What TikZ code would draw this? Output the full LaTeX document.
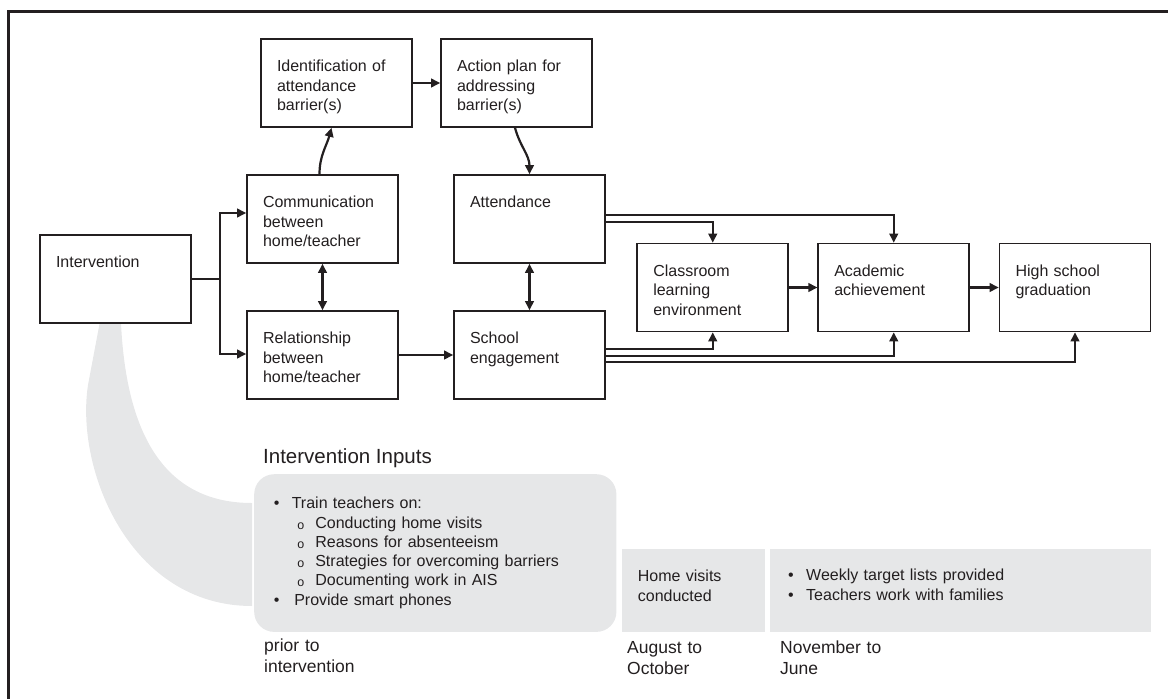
\documentclass[tikz,border=0pt]{standalone}
\usepackage{fontspec}
\setmainfont{Liberation Sans}
\usepackage{tikz}
\usetikzlibrary{arrows.meta}
\definecolor{inkblack}{RGB}{35,31,32}
\definecolor{inputgray}{RGB}{230,231,232}
\tikzstyle{block} = [rectangle, draw = inkblack, line width = 1.6pt, fill = white, text = inkblack, text width = 119pt, inner xsep = 16pt, inner ysep = 0pt, text height = 32.5pt, text depth = 55.5pt, align = left, font = \fontsize{16}{19.7}\selectfont]
\tikzstyle{arrow} = [draw = inkblack, line width = 2.2pt, -{Triangle[length=9pt, width=8.5pt]}]
\tikzstyle{darrow} = [draw = inkblack, line width = 2.2pt, {Triangle[length=9pt, width=8.5pt]}-{Triangle[length=9pt, width=8.5pt]}]
\tikzstyle{link} = [draw = inkblack, line width = 2.2pt]
\tikzstyle{phase} = [rectangle, fill = inputgray, text = inkblack, inner ysep = 0pt, align = left, anchor = north west, font = \fontsize{16}{19.3}\selectfont]
\tikzstyle{period} = [text = inkblack, inner sep = 0pt, text width = 130pt, align = left, anchor = base west, font = \fontsize{17.5}{21.3}\selectfont]
\newcommand{\itembul}{\makebox[18pt][l]{\textbullet}}
\newcommand{\subbul}{\hspace*{23.5pt}\makebox[18pt][l]{\raisebox{-1pt}{\fontsize{12.5}{12.5}\selectfont o}}}

\begin{document}
\begin{tikzpicture}[x = 1pt, y = -1pt, node distance = 207pt]
    \useasboundingbox (0,0) rectangle (1168,699);
    % frame
    \draw[inkblack, line width = 3pt] (8.5,710) -- (8.5,11.5) -- (1180,11.5);
    % gray band from intervention down to the inputs
    \fill[inputgray] (104,300) -- (119,300) -- (121,323) .. controls (127,450) and (175,503) .. (252,503) -- (252,606) .. controls (130,606) and (75,470) .. (88,385) -- cycle;

    \node (interv) [block] at (115.5,279) {Intervention};
    \node (comm) [block, right of = interv, yshift = 60pt] {Communication\\between\\home/teacher};
    \node (relat) [block, below of = comm, yshift = 71pt] {Relationship\\between\\home/teacher};
    \node (ident) [block, above of = comm, yshift = -71pt, xshift = 14pt] {Identification of\\attendance\\barrier(s)};
    \node (action) [block, right of = ident, xshift = -27pt] {Action plan for\\addressing\\barrier(s)};
    \node (attend) [block, right of = comm] {Attendance};
    \node (school) [block, right of = relat] {School\\engagement};
    \node (classroom) [block, right of = attend, xshift = -23.75pt, yshift = -68.5pt] {Classroom\\learning\\environment};
    \node (academic) [block, right of = classroom, xshift = -26pt] {Academic\\achievement};
    \node (hsgrad) [block, right of = academic, xshift = -25.75pt] {High school\\graduation};

    \coordinate (split) at ([xshift = 28pt]interv.east);
    \draw[link] (interv.east) -- (split);
    \draw[arrow] (split) |- ([yshift = 6pt]comm.west);
    \draw[arrow] (split) |- ([yshift = 1pt]relat.west);
    \draw[darrow] (comm) -- (relat);
    \draw[arrow] ([xshift = -3pt]comm.north) to[out = 90, in = -105] ([xshift = -5pt]ident.south);
    \draw[arrow] (ident) -- (action);
    \draw[arrow] ([xshift = -1.5pt]action.south) to[out = -75, in = 90] (attend.north);
    \draw[darrow] (attend) -- (school);
    \draw[arrow] (relat) -- (school);
    \draw[arrow] ([yshift = 4pt]attend.east) -| (academic.north);
    \draw[arrow] ([yshift = -3pt]attend.east) -| (classroom.north);
    \draw[arrow] ([yshift = 6pt]school.east) -| (classroom.south);
    \draw[arrow] ([yshift = -1pt]school.east) -| (academic.south);
    \draw[arrow] ([yshift = -7pt]school.east) -| (hsgrad.south);
    \draw[arrow] (classroom) -- (academic);
    \draw[arrow] (academic) -- (hsgrad);

    \node (inputstitle) [anchor = base west, text = inkblack, inner sep = 0pt, font = \fontsize{20.5}{24}\selectfont] at (263,463.5) {Intervention Inputs};
    \node (inputs) [phase, rounded corners = 20pt, text width = 323pt, inner xsep = 19.6pt, text height = 34.5pt, text depth = 123.2pt] at (254,474) {\itembul Train teachers on:\\
        \subbul Conducting home visits\\
        \subbul Reasons for absenteeism\\
        \subbul Strategies for overcoming barriers\\
        \subbul Documenting work in AIS\\
        \makebox[20.5pt][l]{\textbullet}Provide smart phones};
    \node (visits) [phase, text width = 111.6pt, inner xsep = 15.7pt, text height = 32.5pt, text depth = 50.2pt] at (622,549) {Home visits\\conducted};
    \node (weekly) [phase, text width = 344.6pt, inner xsep = 18pt, text height = 31.5pt, text depth = 51.2pt] at (770,549) {\itembul Weekly target lists provided\\\itembul Teachers work with families};

    \node (prior) [period] at (264,651) {prior to\\intervention};
    \node (augoct) [period] at (627,653.5) {August to\\October};
    \node (novjun) [period] at (780,653.5) {November to\\June};
\end{tikzpicture}
\end{document}
